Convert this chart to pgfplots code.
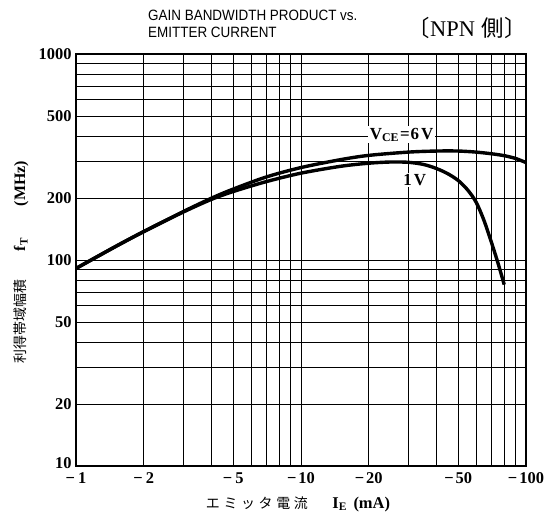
\documentclass[border=0pt]{standalone}
\usepackage{fontspec}
\setmainfont{Liberation Serif}
\newfontfamily\cjk{Noto Sans CJK JP}
\newfontfamily\sans[FakeStretch=0.9]{Liberation Sans}
\usepackage{pgfplots}
\pgfplotsset{compat=1.18}
\begin{document}
\begin{tikzpicture}
\begin{axis}[
  at={(0,0)}, anchor=south west,
  scale only axis, width=450bp, height=412bp,
  xmode=log, ymode=log,
  xmin=1, xmax=100, ymin=10, ymax=1000,
  xtick={1,2,5,10,20,50,100},
  xticklabels={−\kern3bp1,−\kern3bp2,−\kern3bp5,−\kern2bp10,−\kern2bp20,−\kern2bp50,−\kern2bp100},
  ytick={10,20,50,100,200,500,1000},
  yticklabels={\raisebox{5bp}{10},20,50,100,200,500,1000},
  minor xtick={3,4,6,7,8,9,30,40,60,70,80,90},
  minor ytick={30,40,60,70,80,90,300,400,600,700,800,900},
  grid=both,
  major grid style={black, line width=0.8bp},
  minor grid style={black, line width=0.8bp},
  axis line style={black, line width=1.5bp},
  major tick length=0pt, minor tick length=0pt,
  tick label style={font=\bfseries\fontsize{16.5}{16.5}\selectfont},
  yticklabel style={xshift=-1bp},
  xticklabel style={yshift=-3bp},
  clip=true,
]
\addplot[black, line width=3.4bp, smooth, tension=0.5] coordinates {
  (1,91) (1.5,116.4) (2,137.5) (3,171.9) (4,199.6) (5,221) (7,252.8) (10,281)
  (15,307) (20,322) (30,334) (40,338) (50,338) (60,334) (70,328)
  (80,321) (90,311) (100,297)
};
\addplot[black, line width=3.4bp, smooth, tension=0.5] coordinates {
  (1,91) (1.5,116.2) (2,137.2) (3,171) (4,197) (5,215) (7,240) (10,264)
  (15,285) (20,295) (25,299) (30,298) (35,291) (40,278) (45,262) (50,243)
  (55,219) (60,191) (65,156) (70,123) (75,97) (80,76)
};
\node[fill=white, inner sep=1.5bp, font=\bfseries\fontsize{17}{17}\selectfont]
  at (axis cs:28,405) {V\textsubscript{CE}\kern1bp=\kern1bp6\kern2bp V};
\node[fill=white, inner sep=1.5bp, font=\bfseries\fontsize{17}{17}\selectfont]
  at (axis cs:32,245) {1\kern2bp V};
\end{axis}
% titles
\node[anchor=base west, font=\sans\fontsize{15}{15}\selectfont, inner sep=0pt]
  at (72bp,445bp) {GAIN BANDWIDTH PRODUCT vs.};
\node[anchor=base west, font=\sans\fontsize{15}{15}\selectfont, inner sep=0pt]
  at (72bp,428bp) {EMITTER CURRENT};
\node[anchor=base east, font=\fontsize{22.5}{22.5}\selectfont, inner sep=0pt]
  at (451bp,429bp) {{\cjk 〔}NPN\kern7bp{\cjk 側〕}};
% axis labels
\node[anchor=center, inner sep=0pt, font=\fontsize{14}{14}\selectfont]
  at (222bp,-38bp) {{\cjk\addfontfeature{LetterSpace=26}エミッタ電流}\hspace{1.5em}{\fontsize{16.5}{16.5}\selectfont\textbf{I}\textsubscript{\textbf{E}}\hspace{0.4em}\textbf{(mA)}}};
\node[anchor=center, rotate=90, inner sep=0pt, font=\fontsize{14}{14}\selectfont]
  at (-55bp,204bp) {{\cjk 利得帯域幅積}\hspace{2em}{\fontsize{16}{16}\selectfont\textbf{f}\textsubscript{\textbf{T}}\hspace{2em}\textbf{(MHz)}}};
\pgfresetboundingbox
\path[use as bounding box] (-76bp,-55bp) rectangle (469bp,466bp);
\end{tikzpicture}
\end{document}
